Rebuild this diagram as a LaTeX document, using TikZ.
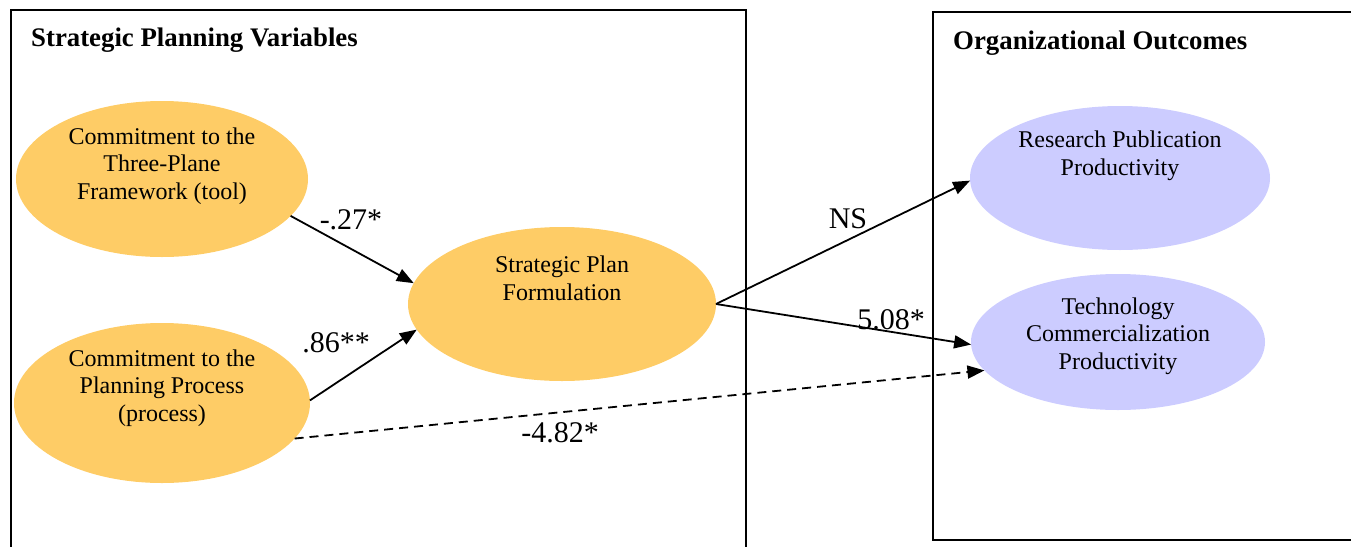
\documentclass[tikz,border=0pt]{standalone}
\usepackage{fontspec}
\setmainfont{Liberation Serif}
\usetikzlibrary{shapes.geometric,arrows.meta}
\definecolor{planfill}{RGB}{254,204,102}
\definecolor{outfill}{RGB}{204,204,255}
\tikzset{
  frame/.style={draw=black, line width=1.8pt},
  title/.style={font=\fontsize{26.8}{30}\selectfont\bfseries, anchor=base west, inner sep=0pt},
  blob/.style={ellipse, draw=none, inner sep=0pt, outer sep=0pt},
  plan/.style={blob, fill=planfill},
  outcome/.style={blob, fill=outfill},
  etext/.style={align=center, font=\fontsize{24}{27.6}\selectfont, inner sep=0pt},
  coef/.style={font=\fontsize{30}{33}\selectfont, inner sep=0pt},
  link/.style={line width=1.8pt, -{Triangle[length=17pt,width=13pt]}},
  dashlink/.style={link, dash pattern=on 9pt off 6pt},
}
\begin{document}
\begin{tikzpicture}[x=1pt,y=-1pt]
  \useasboundingbox (0,0) rectangle (1351,546);
  \clip (0,0) rectangle (1351,546);

  % the two grouping frames
  \draw[frame] (11,10) rectangle (746,570);
  \draw[frame] (933,12) rectangle (1370,540);
  \node[title] (tleft)  at (31,46)  {Strategic Planning Variables};
  \node[title] (tright) at (953,49) {Organizational Outcomes};

  % strategic planning variables
  \node[plan, minimum width=292pt, minimum height=156pt] (tool) at (162,179) {};
  \node[etext] (tooltxt) at (162,166) {Commitment to the\\Three-Plane\\Framework (tool)};

  \node[plan, minimum width=296pt, minimum height=160pt] (proc) at (162,403) {};
  \node[etext] (proctxt) at (162,388) {Commitment to the\\Planning Process\\(process)};

  \node[plan, minimum width=308pt, minimum height=154pt] (form) at (562,304) {};
  \node[etext] (formtxt) at (562,278) {Strategic Plan\\Formulation};

  % organizational outcomes
  \node[outcome, minimum width=300pt, minimum height=144pt] (pub) at (1120,178) {};
  \node[etext] (pubtxt) at (1120,156) {Research Publication\\Productivity};

  \node[outcome, minimum width=294pt, minimum height=136pt] (tech) at (1118,342) {};
  \node[etext] (techtxt) at (1118,336) {Technology\\Commercialization\\Productivity};

  % paths
  \draw[link] (tool.-16.5) -- (form.172);
  \draw[link] (proc.1) -- (form.190);
  \draw[link] (form.east) -- (pub.181);
  \draw[link] (form.east) -- (tech.181);
  \draw[dashlink] (proc.-15.3) -- (tech.192);

  % path coefficients
  \node[coef] (c1) at (351,220) {-.27*};
  \node[coef] (c2) at (336,343) {.86**};
  \node[coef] (c3) at (848,219) {NS};
  \node[coef] (c4) at (891,320) {5.08*};
  \node[coef] (c5) at (560,433) {-4.82*};
\end{tikzpicture}
\end{document}
